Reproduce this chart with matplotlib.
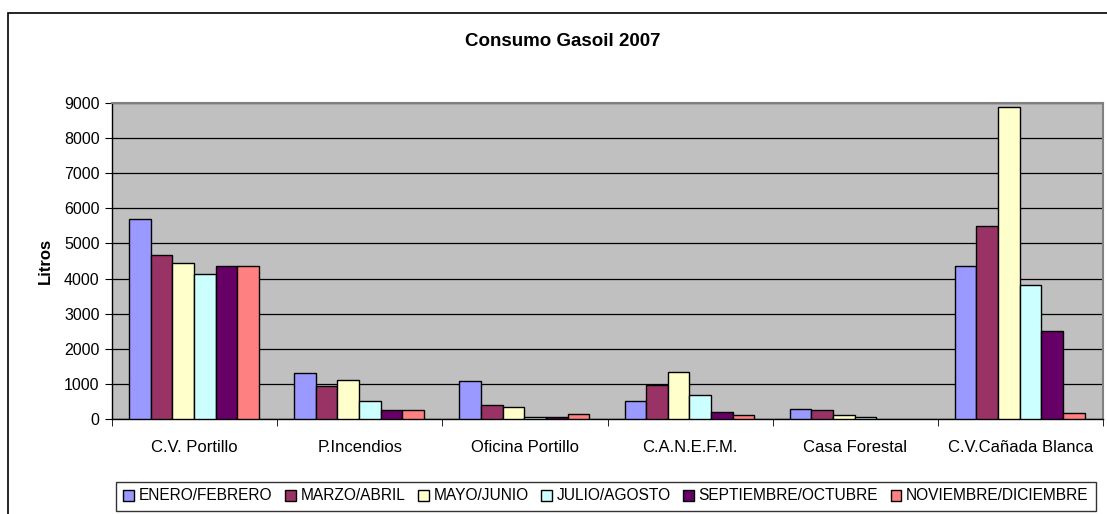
import numpy as np
import matplotlib.pyplot as plt
from matplotlib.patches import Rectangle

plt.rcParams['font.family'] = ['Liberation Sans', 'DejaVu Sans']

# data
sitios = ['C.V. Portillo', 'P.Incendios', 'Oficina Portillo', 'C.A.N.E.F.M.',
          'Casa Forestal', 'C.V.Cañada Blanca']
periodos = ['ENERO/FEBRERO', 'MARZO/ABRIL', 'MAYO/JUNIO', 'JULIO/AGOSTO',
            'SEPTIEMBRE/OCTUBRE', 'NOVIEMBRE/DICIEMBRE']
enero_feb = [5690, 1310, 1080, 530, 305, 4350]
marzo_abr = [4680, 960, 400, 985, 255, 5500]
mayo_jun = [4445, 1130, 340, 1355, 125, 8870]
julio_ago = [4140, 530, 65, 700, 55, 3810]
sept_oct = [4355, 255, 60, 220, 0, 2510]
nov_dic = [4355, 255, 160, 125, 0, 170]
colores = ['#9999FF', '#993366', '#FFFFCC', '#CCFFFF', '#660066', '#FF8080']

series = [enero_feb, marzo_abr, mayo_jun, julio_ago, sept_oct, nov_dic]

fig = plt.figure(figsize=(11.07, 5.14), dpi=100)
# outer chart frame
fig.patches.append(Rectangle((8/1107, -0.1), 1.2, 1 - 13/514 + 0.1,
                             transform=fig.transFigure, fill=False,
                             edgecolor='black', linewidth=1.2))
ax = fig.add_axes([112/1107, 1 - 419.3/514, (1103-112)/1107, (419.3-102.7)/514])
ax.set_facecolor('#C0C0C0')

x = np.arange(len(sitios))
w = 0.131
for i, (vals, c) in enumerate(zip(series, colores)):
    lw = [1.0 if v > 0 else 0 for v in vals]
    ax.bar(x - 0.5 + 0.103 + w*i, vals, width=w, align='edge', color=c,
           edgecolor='black', linewidth=lw, label=periodos[i], zorder=3)

ax.set_xlim(-0.5, len(sitios) - 0.5)
ax.set_ylim(0, 9000)
ax.set_yticks(range(0, 9001, 1000))
ax.yaxis.grid(True, color='black', linewidth=0.9, zorder=0)
ax.set_axisbelow(True)
ax.set_xticks(x)
ax.set_xticklabels(sitios, fontsize=12)
ax.set_xticks(np.arange(-0.5, len(sitios)), minor=True)
ax.tick_params(axis='x', which='major', length=0, pad=15)
ax.tick_params(axis='x', which='minor', length=5, direction='out')
ax.tick_params(axis='y', labelsize=11.5, length=5, pad=4)
for s in ['top', 'right']:
    ax.spines[s].set_color('#808080')
    ax.spines[s].set_linewidth(1.5)
ax.spines['left'].set_linewidth(1.0)
ax.spines['bottom'].set_linewidth(1.0)

ax.set_ylabel('Litros', fontsize=12, fontweight='bold', labelpad=8)
fig.text(563/1107, 1 - 42/514, 'Consumo Gasoil 2007', ha='center', va='center',
         fontsize=13.5, fontweight='bold')

leg = fig.legend(loc='center', bbox_to_anchor=(606/1107, 1 - 496/514), ncol=6,
                 fontsize=11.2, frameon=True, fancybox=False, edgecolor='black',
                 handlelength=0.7, handleheight=0.7, handletextpad=0.3,
                 columnspacing=0.8, borderpad=0.45)
leg.get_frame().set_linewidth(1.0)

fig.savefig('out.png', dpi=100)
